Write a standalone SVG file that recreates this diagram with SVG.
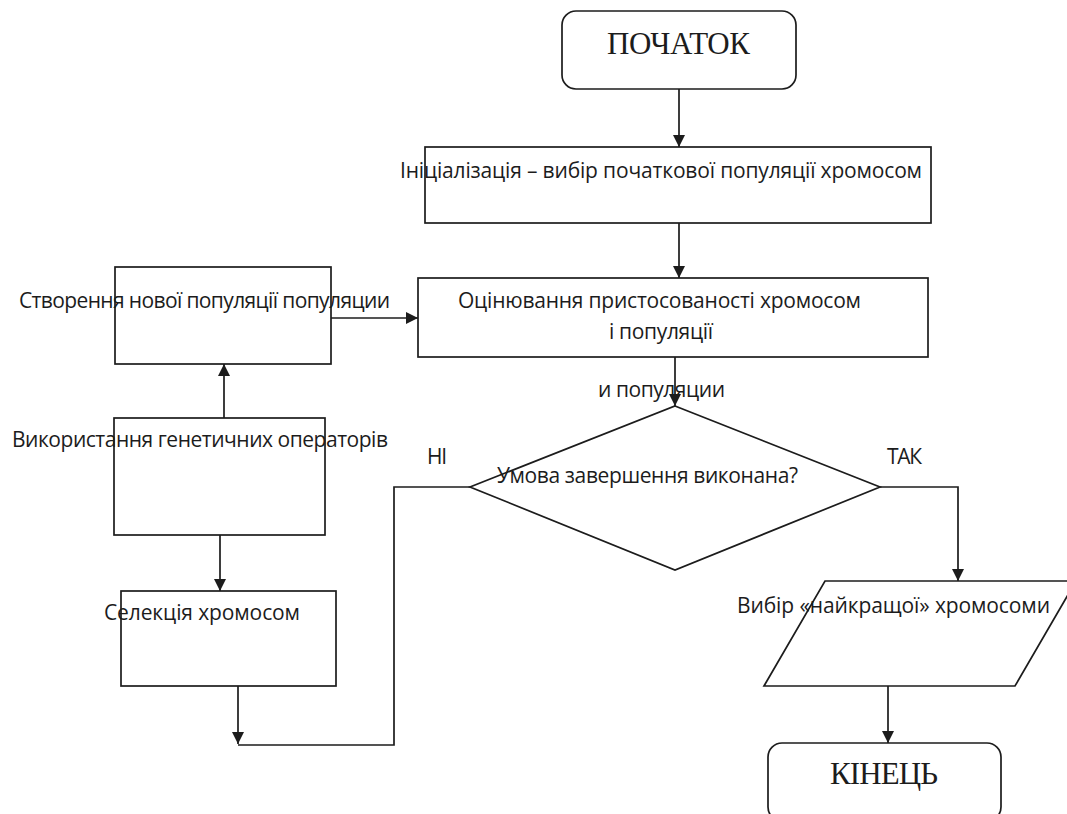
<svg xmlns="http://www.w3.org/2000/svg" width="1067" height="814" viewBox="0 0 1067 814">
<style>
.box{fill:#fff;stroke:#1c1c1c;stroke-width:1.7}
.ln{fill:none;stroke:#1c1c1c;stroke-width:1.7}
.t{font-family:"Open Sans","Noto Sans","Liberation Sans",sans-serif;font-size:21px;fill:#1c1c1c}
.s{font-family:"Liberation Serif","Times New Roman",serif;font-size:31px;fill:#1c1c1c}
</style>
<defs>
<marker id="ah" viewBox="0 0 10 10" refX="10" refY="5" markerWidth="12" markerHeight="12" markerUnits="userSpaceOnUse" orient="auto">
<path d="M0,0 L10,5 L0,10 z" fill="#1c1c1c"/>
</marker>
</defs>
<rect width="1067" height="814" fill="#fff"/>
<g id="connectors">
<line class="ln" x1="679" y1="89" x2="679" y2="147" marker-end="url(#ah)"/>
<line class="ln" x1="679" y1="223" x2="679" y2="278" marker-end="url(#ah)"/>
<line class="ln" x1="331" y1="318" x2="418" y2="318" marker-end="url(#ah)"/>
<line class="ln" x1="224" y1="418" x2="224" y2="364" marker-end="url(#ah)"/>
<line class="ln" x1="220" y1="535" x2="220" y2="591" marker-end="url(#ah)"/>
<line class="ln" x1="675" y1="357" x2="675" y2="406" marker-end="url(#ah)"/>
<polyline class="ln" points="880,487 958,487 958,581" marker-end="url(#ah)"/>
<polyline class="ln" points="470,487 394,487 394,745 238,745"/>
<line class="ln" x1="238" y1="686" x2="238" y2="744" marker-end="url(#ah)"/>
<line class="ln" x1="888" y1="686" x2="888" y2="743" marker-end="url(#ah)"/>
</g>
<g id="start">
<rect class="box" x="562" y="11" width="234" height="78" rx="14"/>
<text class="s" x="607" y="54" textLength="143">ПОЧАТОК</text>
</g>
<g id="init">
<rect class="box" x="425" y="147" width="506" height="76"/>
<text class="t" x="400" y="178" textLength="522">Ініціалізація – вибір початкової популяції хромосом</text>
</g>
<g id="evaluate">
<rect class="box" x="418" y="278" width="510" height="79"/>
<text class="t" x="458" y="308" textLength="403">Оцінювання пристосованості хромосом</text>
<text class="t" x="609" y="339" textLength="104">і популяції</text>
</g>
<g id="create">
<rect class="box" x="115" y="267" width="216" height="97"/>
<text class="t" x="19" y="308" textLength="371">Створення нової популяції популяции</text>
</g>
<g id="operators">
<rect class="box" x="114" y="418" width="211" height="117"/>
<text class="t" x="12" y="447" textLength="376">Використання генетичних операторів</text>
</g>
<g id="selection">
<rect class="box" x="121" y="591" width="215" height="95"/>
<text class="t" x="104" y="620" textLength="196">Селекція хромосом</text>
</g>
<g id="condition">
<polygon class="box" points="675,406 880,487 675,570 470,487"/>
<text class="t" x="598" y="397" textLength="127">и популяции</text>
<text class="t" x="497" y="483" textLength="301">Умова завершення виконана?</text>
<text class="t" x="427" y="464" textLength="20">НІ</text>
<text class="t" x="887" y="464" textLength="35">ТАК</text>
</g>
<g id="best">
<polygon class="box" points="825,581 1076,581 1015,686 764,686"/>
<text class="t" x="737" y="613" textLength="313">Вибір «найкращої» хромосоми</text>
</g>
<g id="end">
<rect class="box" x="768" y="743" width="233" height="78" rx="14"/>
<text class="s" x="830" y="784" textLength="108">КІНЕЦЬ</text>
</g>
</svg>
